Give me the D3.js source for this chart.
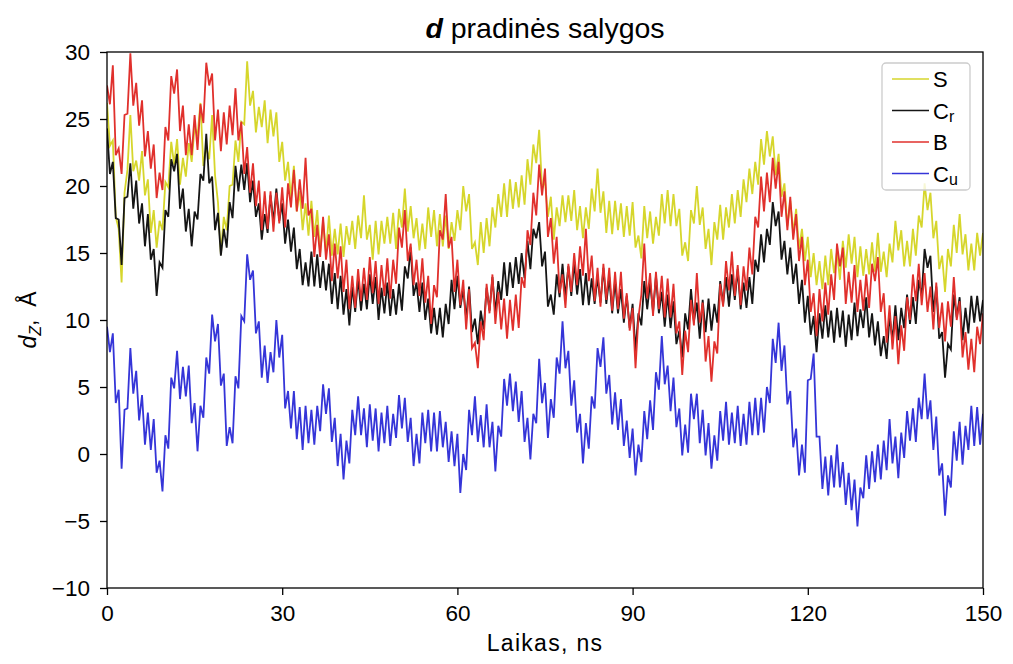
<!DOCTYPE html>
<html>
<head>
<meta charset="utf-8">
<script src="https://cdn.jsdelivr.net/npm/d3@7"></script>
<style>
  body { margin: 0; background: #fff; }
  text { font-family: "Liberation Sans", Arial, sans-serif; }
</style>
</head>
<body>
<div class="chart"></div>
<script>
'use strict';

// time grid: one sample every 0.5 ns, 0..150
const timeStep = 0.5;
const xTicks = [0, 30, 60, 90, 120, 150];
const yTicks = [-10, -5, 0, 5, 10, 15, 20, 25, 30];

// S (yellow)
const sValues = [
    26.2,23.0,23.4,17.7,16.8,12.8,19.5,21.2,25.3,21.1,21.9,20.4,22.6,19.3,20.5,16.5,18.2,15.4,17.4,16.7,
    20.3,19.9,23.3,21.6,23.5,20.1,22.1,20.7,23.2,21.8,24.4,23.7,26.2,21.5,22.9,22.0,25.3,20.8,18.8,14.9,
    17.7,16.7,20.0,20.1,23.4,21.8,24.8,24.6,29.3,26.0,27.1,24.0,25.9,24.4,26.4,23.2,25.7,23.7,25.5,21.8,
    23.3,20.4,21.8,19.1,21.5,18.1,19.6,16.7,18.7,16.3,18.9,16.2,18.2,15.0,17.4,15.0,17.8,14.8,16.8,14.9,
    17.2,14.7,17.0,15.6,17.4,15.3,17.8,16.1,19.3,16.0,17.1,14.5,17.4,14.9,17.4,15.7,17.7,15.7,18.0,15.3,
    18.3,16.9,19.8,16.6,18.5,16.1,17.6,15.2,17.2,15.3,18.4,16.2,18.2,15.5,17.9,15.5,17.8,15.3,17.3,15.9,
    18.2,16.7,20.0,18.1,19.4,15.3,15.8,14.1,17.3,15.0,17.6,15.5,18.4,16.9,19.4,17.7,20.2,17.7,20.5,18.3,
    20.3,18.4,20.8,18.6,22.0,20.1,23.1,21.7,24.2,19.8,20.4,17.7,19.2,16.0,18.4,17.0,19.3,17.3,19.3,17.4,
    19.7,16.7,18.5,16.1,18.4,16.8,19.8,18.1,21.3,18.0,19.6,16.5,18.9,16.4,18.9,16.7,18.7,16.2,18.5,16.3,
    18.8,15.4,16.3,14.6,18.5,16.1,18.1,15.7,17.7,16.3,19.4,17.2,19.7,17.0,19.4,17.0,18.3,14.8,15.8,14.4,
    18.2,17.2,20.0,17.1,18.4,15.3,16.8,14.1,17.3,16.0,18.6,16.0,18.4,16.9,19.4,17.2,19.7,17.7,20.5,18.8,
    21.3,19.4,21.8,20.1,23.5,21.6,24.1,22.2,23.7,20.8,22.4,19.2,20.2,17.0,18.9,16.5,18.3,15.3,16.8,14.4,
    16.2,13.2,15.0,12.6,14.4,12.3,14.8,12.6,15.3,13.5,15.1,13.0,15.9,13.9,16.4,14.2,16.2,13.2,15.5,13.3,
    15.3,13.4,15.8,13.6,16.5,13.6,15.1,13.2,15.7,14.3,17.4,15.2,16.7,14.0,15.9,14.0,16.8,14.8,17.8,16.9,
    20.2,18.2,19.5,16.1,17.4,13.8,14.8,12.1,15.3,14.0,17.1,15.0,17.9,14.9,16.4,13.7,15.7,13.7,16.5,14.8,
    16.5
];

// C_r (black)
const crValues = [
    24.3,20.9,21.8,17.6,17.5,14.1,19.1,19.2,21.7,18.3,20.4,17.2,18.7,15.5,17.9,14.5,15.3,11.8,14.3,13.9,
    18.2,17.7,22.0,21.1,22.4,18.3,19.8,16.6,18.3,15.5,18.1,17.5,20.9,20.4,23.9,20.2,20.7,16.7,18.0,14.8,
    16.8,15.4,18.8,17.6,21.5,19.6,21.6,19.7,21.7,18.8,20.4,17.7,18.7,16.0,17.9,16.5,19.3,17.3,19.8,17.4,
    18.7,15.7,17.5,15.1,16.9,13.8,15.3,12.6,14.3,12.5,15.1,12.5,14.9,12.4,14.4,12.2,14.2,11.2,13.5,10.8,
    13.3,10.4,12.3,9.6,12.5,10.6,13.1,10.7,12.7,10.8,13.4,11.2,13.2,10.0,12.4,10.5,12.8,10.3,12.3,10.4,
    12.7,10.7,14.0,13.1,15.4,11.8,12.8,10.6,12.8,10.0,11.6,9.0,10.9,8.9,10.9,8.7,11.2,9.7,13.0,10.8,
    13.3,10.9,12.3,10.1,12.5,9.1,10.1,8.2,10.7,9.3,12.4,10.7,13.2,10.5,12.9,11.5,14.3,11.8,14.3,12.4,
    14.7,12.7,15.0,13.1,15.9,13.8,16.8,16.1,17.3,14.0,15.1,11.0,11.9,10.4,13.4,11.7,14.2,11.7,14.0,11.8,
    14.3,11.9,13.8,11.1,13.5,11.1,13.1,11.2,13.2,11.3,13.9,11.2,13.2,10.5,12.9,10.5,12.3,9.8,11.8,9.4,
    11.2,7.7,10.5,9.6,12.9,10.8,12.8,10.6,13.3,10.5,12.1,9.5,11.9,9.4,11.4,8.2,9.2,7.2,10.5,9.3,
    12.3,9.9,11.3,8.6,11.5,9.1,11.6,9.2,11.2,9.8,12.9,11.2,13.2,11.0,13.4,11.5,13.8,10.8,12.8,10.9,
    13.2,11.2,14.5,13.6,16.4,14.3,16.8,15.6,18.8,17.0,18.1,14.5,15.9,13.4,15.4,12.7,14.2,11.2,13.0,9.8,
    11.8,8.9,10.3,7.6,10.5,8.6,11.1,8.7,10.7,8.3,10.9,8.7,10.7,8.0,10.4,8.5,11.3,8.8,10.8,9.4,
    11.7,8.7,10.5,8.1,9.9,7.3,8.8,7.1,10.3,8.5,11.1,8.5,10.9,9.4,11.9,9.7,11.7,9.7,13.0,11.8,
    15.3,13.9,14.8,10.6,12.5,8.6,9.1,5.7,8.2,7.8,11.9,10.2,11.7,8.5,10.9,9.0,11.8,9.8,11.8,9.9,
    11.5
];

// B (red)
const bValues = [
    27.5,26.1,29.0,22.3,22.8,20.9,25.3,25.4,29.9,26.0,27.7,24.5,26.4,22.2,24.1,21.3,23.1,19.1,21.0,19.7,
    24.4,23.4,28.2,26.9,28.7,24.1,26.0,22.3,24.6,22.3,25.3,22.7,26.1,24.7,29.2,27.5,28.4,23.4,25.7,22.6,
    25.5,23.1,26.0,23.8,27.3,23.4,24.8,20.9,22.9,19.5,21.7,18.5,20.4,16.7,19.6,16.8,19.6,16.6,19.5,17.2,
    19.9,16.9,20.2,18.4,21.2,18.1,20.5,18.3,22.1,17.8,18.3,14.7,17.1,14.7,17.7,14.5,16.4,12.9,15.7,13.1,
    15.5,12.1,14.5,10.8,13.3,10.9,13.8,11.4,13.9,11.5,14.7,12.0,14.4,11.2,14.1,11.8,14.6,11.6,14.5,12.7,
    16.9,15.4,18.2,14.4,15.7,12.6,14.5,11.8,14.6,11.3,13.3,9.7,12.6,11.7,16.7,16.0,19.4,15.4,16.2,12.1,
    14.5,11.1,13.0,9.3,12.3,7.9,8.3,6.4,9.9,8.5,12.7,10.5,13.4,9.7,12.1,9.3,11.6,8.6,11.5,9.2,
    11.9,9.4,13.2,12.4,16.7,15.6,19.5,17.8,21.6,19.3,21.3,16.2,17.6,14.2,16.2,12.0,13.4,10.9,14.2,12.1,
    15.0,12.6,15.5,13.3,16.8,12.9,14.8,11.4,13.9,11.0,14.2,11.5,13.9,10.7,13.6,10.8,13.6,10.1,12.0,9.2,
    10.9,6.4,10.2,11.9,15.7,11.6,13.5,10.3,13.6,10.8,13.3,10.2,13.1,10.2,12.7,9.0,9.9,5.9,9.2,7.6,
    11.5,9.6,13.5,9.8,11.3,6.9,8.8,5.4,8.4,7.5,12.7,11.0,14.4,12.2,15.1,11.8,14.1,11.1,14.0,12.2,
    15.4,13.4,17.7,16.9,20.7,18.1,21.0,18.8,22.1,19.8,21.8,17.7,19.6,16.7,19.2,16.0,17.9,14.4,16.2,12.6,
    14.5,10.6,12.0,8.8,12.3,9.9,12.8,10.4,13.4,11.5,15.7,14.0,15.4,11.2,13.6,11.3,14.1,10.6,13.0,10.7,
    13.4,10.9,14.2,12.9,14.7,10.6,12.0,8.3,11.1,7.8,10.3,6.7,9.6,7.7,11.7,10.0,13.4,11.4,14.2,11.1,
    13.5,10.6,12.5,9.3,12.8,9.4,11.3,8.4,11.4,9.5,13.2,10.0,11.4,7.2,9.1,6.3,8.6,6.1,9.5,8.2,
    10.5
];

// C_u (blue)
const cuValues = [
    9.5,7.6,9.0,3.8,4.8,-1.1,3.3,3.4,7.9,4.5,6.2,2.5,4.4,0.7,3.1,0.3,2.6,-1.4,-0.5,-2.8,
    1.4,0.4,5.7,4.9,7.7,4.1,6.5,4.3,6.6,2.3,3.8,0.2,3.6,2.7,7.2,6.0,10.4,8.4,9.7,5.1,
    6.0,0.6,2.0,0.8,5.8,4.9,10.3,9.9,14.9,13.0,13.7,9.0,9.9,5.7,8.1,5.3,7.6,6.1,10.0,7.2,
    8.9,3.4,4.7,1.9,4.7,1.1,3.5,0.3,3.6,0.8,3.3,0.7,3.6,1.7,5.2,3.0,4.9,0.9,2.7,-0.9,
    1.5,-1.9,1.0,-0.7,3.3,1.4,4.3,1.4,3.4,0.5,3.7,1.0,3.4,0.2,3.1,0.8,3.6,0.6,3.0,1.2,
    4.4,1.9,4.2,0.9,2.7,-0.9,1.5,-0.7,3.1,0.8,3.3,0.2,3.1,0.2,3.2,0.5,2.4,-0.6,1.7,-0.9,
    1.5,-2.9,0.0,-1.2,3.3,1.4,4.3,0.9,2.9,0.5,3.7,0.5,2.4,-1.3,2.1,1.3,5.6,3.6,6.0,3.2,
    5.4,2.4,4.7,0.9,2.7,-0.4,3.0,2.3,7.1,3.8,5.3,1.2,4.1,2.7,7.2,6.0,9.9,6.4,7.7,3.6,
    5.5,1.6,3.0,-0.7,2.3,0.4,4.3,3.4,7.9,6.5,8.7,4.5,5.9,2.2,4.6,1.8,4.1,0.6,2.5,-0.3,
    1.9,-1.6,0.7,-0.6,3.2,1.1,4.0,1.8,6.1,4.8,8.8,5.2,6.6,3.2,5.7,2.0,3.4,-0.1,2.2,0.1,
    4.5,2.6,4.5,0.8,3.3,-0.1,2.3,-1.1,1.4,-0.5,3.2,1.0,3.9,0.7,3.1,0.8,3.6,0.6,3.0,0.7,
    3.9,1.4,4.2,1.4,4.2,1.6,5.0,3.8,8.6,6.8,9.8,6.2,8.1,3.7,4.7,0.5,1.9,-1.6,0.7,-1.4,
    5.5,5.6,7.5,1.3,1.3,-2.6,-0.2,-3.1,-0.1,-2.5,0.7,-2.5,-0.6,-3.8,-1.4,-4.2,-1.9,-5.4,-2.5,-3.3,
    -0.1,-2.6,0.2,-2.1,0.7,-1.9,1.0,-1.2,2.6,-0.7,1.3,-1.8,1.6,-0.3,3.2,1.0,3.4,0.9,4.2,2.6,
    6.0,2.6,4.0,0.3,2.8,-1.6,-0.7,-4.6,-1.6,-2.5,1.7,-0.5,2.4,-0.8,2.1,0.3,3.6,0.6,3.5,0.7,
    3.0
];

const seriesLabels = [['S', ''], ['C', 'r'], ['B', ''], ['C', 'u']];
const seriesColors = ['#d6d62c', '#151515', '#e0302c', '#3535d8'];
const seriesData = [sValues, crValues, bValues, cuValues];

const margin = {top: 52, right: 30, bottom: 76, left: 107};
const totalW = 1013, totalH = 664;
const width = totalW - margin.left - margin.right;
const height = totalH - margin.top - margin.bottom;

const xScale = d3.scaleLinear().domain([0, 150]).range([0, width]);
const yScale = d3.scaleLinear().domain([-10, 30]).range([height, 0]);

const svg = d3.select('.chart').append('svg')
    .attr('width', totalW)
    .attr('height', totalH);

const g = svg.append('g')
    .attr('transform', `translate(${margin.left},${margin.top})`);

g.append('clipPath').attr('id', 'plotClip')
    .append('rect').attr('width', width).attr('height', height);

const line = d3.line()
    .x((d, i) => xScale(i * timeStep))
    .y(d => yScale(d));

const linesG = g.append('g').attr('clip-path', 'url(#plotClip)');
seriesData.forEach((vals, k) => {
    linesG.append('path')
        .datum(vals)
        .attr('fill', 'none')
        .attr('stroke', seriesColors[k])
        .attr('stroke-width', 1.8)
        .attr('d', line);
});

// axes
const xAxis = g.append('g')
    .attr('transform', `translate(0,${height})`)
    .call(d3.axisBottom(xScale).tickValues(xTicks).tickSize(7).tickSizeOuter(0).tickPadding(10));
const yAxis = g.append('g')
    .call(d3.axisLeft(yScale).tickValues(yTicks).tickSize(7).tickSizeOuter(0).tickPadding(10));

[xAxis, yAxis].forEach(ax => {
    ax.select('.domain').remove();
    ax.selectAll('line').attr('stroke', '#000').attr('stroke-width', 1.3);
    ax.selectAll('text')
        .attr('fill', '#000')
        .style('font-size', '22.5px')
        .style('font-family', '"Liberation Sans", Arial, sans-serif');
});

// frame
g.append('rect')
    .attr('width', width)
    .attr('height', height)
    .attr('fill', 'none')
    .attr('stroke', '#000')
    .attr('stroke-width', 1.3);

// title
const title = svg.append('text')
    .attr('x', margin.left + width / 2)
    .attr('y', 38)
    .attr('text-anchor', 'middle')
    .style('font-size', '28.5px');
title.append('tspan').text('d').style('font-weight', 'bold').style('font-style', 'italic');
title.append('tspan').text(' pradinės salygos');

// axis labels
svg.append('text')
    .attr('x', margin.left + width / 2)
    .attr('y', 651)
    .attr('text-anchor', 'middle')
    .style('font-size', '23px')
    .style('letter-spacing', '1.3px')
    .text('Laikas, ns');

const yLab = svg.append('text')
    .attr('transform', `translate(36,${margin.top + height / 2}) rotate(-90)`)
    .attr('text-anchor', 'middle')
    .style('font-size', '23px');
yLab.append('tspan').text('d').style('font-style', 'italic');
yLab.append('tspan').text('Z').style('font-style', 'italic').style('font-size', '16px').attr('dy', 5);
yLab.append('tspan').text(',\u00a0\u00a0Å').attr('dy', -5);

// legend
const legend = g.append('g')
    .attr('transform', `translate(${width - 101},${11})`);
legend.append('rect')
    .attr('width', 88)
    .attr('height', 127)
    .attr('rx', 4)
    .attr('fill', 'rgba(255,255,255,0.8)')
    .attr('stroke', '#cccccc')
    .attr('stroke-width', 1.3);

seriesLabels.forEach((lab, k) => {
    const yy = 16 + k * 31.5;
    legend.append('line')
        .attr('x1', 10).attr('x2', 47)
        .attr('y1', yy).attr('y2', yy)
        .attr('stroke', seriesColors[k])
        .attr('stroke-width', 1.6);
    const t = legend.append('text')
        .attr('x', 51)
        .attr('y', yy + 8)
        .style('font-size', '22px');
    t.append('tspan').text(lab[0]);
    if (lab[1]) {
        t.append('tspan').text(lab[1]).style('font-size', '16px').attr('dy', 3);
    }
});
</script>
</body>
</html>
